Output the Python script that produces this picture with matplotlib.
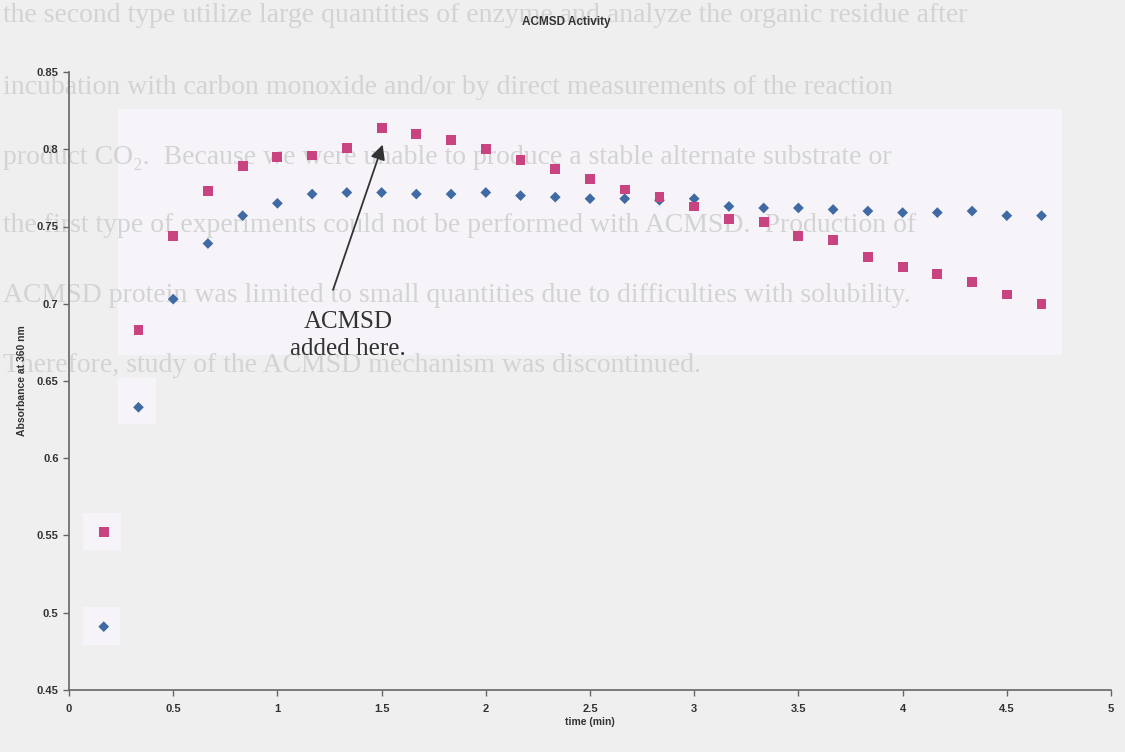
import matplotlib
matplotlib.use("Agg")
import matplotlib.pyplot as plt
from matplotlib.ticker import FuncFormatter, MultipleLocator
from matplotlib.patches import Rectangle

# readings every 10 s (1/6 min)
time_min = [i / 6 for i in range(1, 29)]
blue_abs = [0.491, 0.633, 0.703, 0.739, 0.757, 0.765, 0.771, 0.772, 0.772, 0.771,
            0.771, 0.772, 0.770, 0.769, 0.768, 0.768, 0.767, 0.768, 0.763, 0.762,
            0.762, 0.761, 0.760, 0.759, 0.759, 0.760, 0.757, 0.757]
pink_abs = [0.552, 0.683, 0.744, 0.773, 0.789, 0.795, 0.796, 0.801, 0.814, 0.810,
            0.806, 0.800, 0.793, 0.787, 0.781, 0.774, 0.769, 0.763, 0.755, 0.753,
            0.744, 0.741, 0.730, 0.724, 0.719, 0.714, 0.706, 0.700]

# faint bleed-through text from the scanned page
ghost_lines = [
    "the second type utilize large quantities of enzyme and analyze the organic residue after",
    "incubation with carbon monoxide and/or by direct measurements of the reaction",
    "product CO\u2082.  Because we were unable to produce a stable alternate substrate or",
    "the first type of experiments could not be performed with ACMSD.  Production of",
    "ACMSD protein was limited to small quantities due to difficulties with solubility.",
    "Therefore, study of the ACMSD mechanism was discontinued.",
]
ghost_y = [16, 88, 158, 226, 296, 366]

W, H = 1125, 752
fig = plt.figure(figsize=(W / 100, H / 100), dpi=100)
fig.patch.set_facecolor("#efefef")

def px(x, y, w, h):
    return (x / W, 1 - (y + h) / H, w / W, h / H)

# lighter paper patches
for (x, y, w, h) in [(118, 109, 944, 246), (118, 378, 38, 46), (83, 513, 38, 37), (83, 607, 37, 38)]:
    bx, by, bw, bh = px(x, y, w, h)
    fig.patches.append(Rectangle((bx, by), bw, bh, transform=fig.transFigure,
                                 facecolor="#f6f4f9", edgecolor="none", zorder=-3))

for s, y in zip(ghost_lines, ghost_y):
    fig.text(3 / W, 1 - y / H, s, fontsize=20, family="Liberation Serif",
             color="#d3d3d3", va="center", ha="left", zorder=-2)

ax = fig.add_axes([69 / W, 1 - 690 / H, (1111 - 69) / W, (690 - 72) / H])
ax.set_facecolor("none")

ax.scatter(time_min, blue_abs, marker="D", s=30, color="#3f6aa3", edgecolors="none", zorder=3)
ax.scatter(time_min, pink_abs, marker="s", s=50, color="#c8437f", edgecolors="none", zorder=3)

ax.set_xlim(0, 5)
ax.set_ylim(0.45, 0.85)
ax.xaxis.set_major_locator(MultipleLocator(0.5))
ax.yaxis.set_major_locator(MultipleLocator(0.05))
fmt = FuncFormatter(lambda v, _: f"{v:g}")
ax.xaxis.set_major_formatter(fmt)
ax.yaxis.set_major_formatter(fmt)

for side in ["top", "right"]:
    ax.spines[side].set_visible(False)
for side in ["left", "bottom"]:
    ax.spines[side].set_color("#666666")
    ax.spines[side].set_linewidth(1.2)

ax.tick_params(direction="out", length=4, width=1, color="#666666",
               labelsize=8, labelcolor="#333333")
for lab in ax.get_xticklabels() + ax.get_yticklabels():
    lab.set_family("Liberation Sans")
    lab.set_fontweight("bold")
ax.tick_params(axis="x", pad=6)

ax.set_xlabel("time (min)", family="Liberation Sans", fontweight="bold",
              fontsize=7.5, color="#333333", labelpad=2)
ax.set_ylabel("Absorbance at 360 nm", family="Liberation Sans", fontweight="bold",
              fontsize=7.5, color="#333333", labelpad=7)
fig.text(566 / W, 1 - 22 / H, "ACMSD Activity", family="Liberation Sans",
         fontweight="bold", fontsize=8.5, color="#333333", ha="center", va="center")

# annotation: arrow and label
ax.annotate("", xy=(1.505, 0.803), xytext=(1.267, 0.709),
            arrowprops=dict(arrowstyle="-|>", color="#333333", lw=1.3,
                            mutation_scale=22, shrinkA=0, shrinkB=0), zorder=4)
ax.text(1.339, 0.6795, "ACMSD\nadded here.", family="Liberation Serif", fontsize=18,
        color="#333333", ha="center", va="center", multialignment="center",
        linespacing=1.3, zorder=4)

fig.savefig("out.png", dpi=100, facecolor=fig.get_facecolor())
